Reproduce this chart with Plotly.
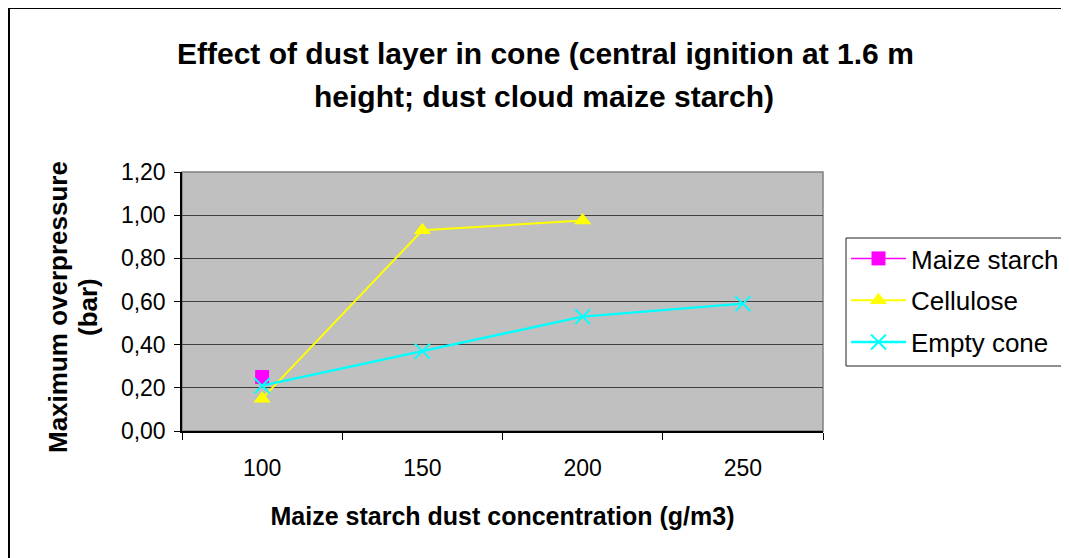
import plotly.graph_objects as go

# data
concentration = ["100", "150", "200", "250"]
maize_starch = [0.25, None, None, None]
cellulose = [0.15, 0.93, 0.975, None]
empty_cone = [0.21, 0.37, 0.53, 0.59]

title_lines = [
    "Effect of dust layer in cone (central ignition at 1.6 m",
    "height; dust cloud maize starch)",
]

OFF = 8  # page body margin
W, H = 1069 - OFF, 558 - OFF
L, R, T, B = 182 - OFF, 823 - OFF, 172 - OFF, 431 - OFF  # plot area in figure pixels


def px_x(x):
    return (x - OFF - L) / (R - L)


def px_y(y):
    return (B - (y - OFF)) / (B - T)


fig = go.Figure()

fig.add_trace(
    go.Scatter(
        x=concentration,
        y=maize_starch,
        mode="lines+markers",
        name="Maize starch",
        legendgroup="a",
        line=dict(color="#FF00FF", width=1.5),
        marker=dict(symbol="square", size=14, color="#FF00FF"),
    )
)
fig.add_trace(
    go.Scatter(
        x=concentration,
        y=cellulose,
        mode="lines+markers",
        name="Cellulose",
        legendgroup="b",
        line=dict(color="#FFFF00", width=2),
        marker=dict(symbol="triangle-up", size=15, color="#FFFF00"),
    )
)
fig.add_trace(
    go.Scatter(
        x=concentration,
        y=empty_cone,
        mode="lines+markers",
        name="Empty cone",
        legendgroup="c",
        line=dict(color="#00FFFF", width=2.4),
        marker=dict(symbol="x-thin", size=15, line=dict(color="#00FFFF", width=2)),
    )
)

font = "Liberation Sans, Arial, sans-serif"

annotations = [
    dict(
        text=f"<b>{title_lines[0]}</b>",
        x=px_x(545), y=px_y(53), xref="paper", yref="paper",
        xanchor="center", yanchor="middle",
        showarrow=False, font=dict(size=30, color="black"),
    ),
    dict(
        text=f"<b>{title_lines[1]}</b>",
        x=px_x(544), y=px_y(97), xref="paper", yref="paper",
        xanchor="center", yanchor="middle",
        showarrow=False, font=dict(size=30, color="black"),
    ),
    dict(
        text="<b>Maximum overpressure</b>",
        x=px_x(58), y=px_y(307), xref="paper", yref="paper", textangle=-90,
        xanchor="center", yanchor="middle",
        showarrow=False, font=dict(size=26, color="black"),
    ),
    dict(
        text="<b>(bar)</b>",
        x=px_x(88), y=px_y(307), xref="paper", yref="paper", textangle=-90,
        xanchor="center", yanchor="middle",
        showarrow=False, font=dict(size=26, color="black"),
    ),
]

shapes = [
    # outer chart frame
    dict(
        type="rect", xref="paper", yref="paper",
        x0=px_x(9), x1=px_x(1090), y0=px_y(580), y1=px_y(8),
        line=dict(color="black", width=2), layer="below",
    ),
    # plot area border
    dict(
        type="rect", xref="paper", yref="paper",
        x0=0, x1=1, y0=0, y1=1,
        line=dict(color="#808080", width=1.5), layer="below",
    ),
    # legend frame, running off the right edge like the reference
    dict(
        type="rect", xref="paper", yref="paper",
        x0=px_x(846), x1=px_x(1090), y0=px_y(366), y1=px_y(238),
        line=dict(color="#202020", width=1), fillcolor="white", layer="below",
    ),
]

fig.update_layout(
    width=W,
    height=H,
    margin=dict(l=L, r=W - R, t=T, b=H - B, autoexpand=False),
    paper_bgcolor="white",
    plot_bgcolor="#C0C0C0",
    separators=", ",
    font=dict(family=font, color="black"),
    showlegend=True,
    annotations=annotations,
    shapes=shapes,
    legend=dict(
        x=px_x(846), y=px_y(235), xanchor="left", yanchor="top",
        borderwidth=0, bgcolor="rgba(0,0,0,0)",
        font=dict(size=26, color="black"),
        tracegroupgap=5,
        itemwidth=55,
    ),
    xaxis=dict(
        type="category",
        range=[-0.5, 3.5],
        tickson="boundaries",
        ticks="outside",
        ticklen=7,
        tickcolor="black",
        showline=True,
        linecolor="black",
        linewidth=1.5,
        showgrid=False,
        tickfont=dict(size=23),
        ticklabelstandoff=16,
        title=dict(text="<b>Maize starch dust concentration (g/m3)</b>", font=dict(size=25), standoff=27),
    ),
    yaxis=dict(
        range=[0, 1.2],
        dtick=0.2,
        tickformat=".2f",
        ticks="outside",
        ticklen=6,
        tickcolor="black",
        showline=True,
        linecolor="black",
        linewidth=1.5,
        showgrid=True,
        gridcolor="#404040",
        gridwidth=1,
        zeroline=False,
        tickfont=dict(size=23),
        ticklabelstandoff=4,
    ),
)

fig.write_html("out.html")
